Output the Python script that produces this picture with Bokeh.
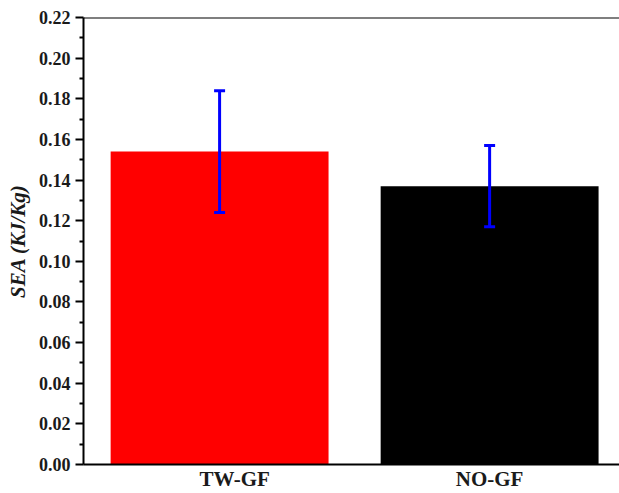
from bokeh.plotting import figure
from bokeh.models import ColumnDataSource, Whisker, Range1d, FixedTicker, Span, NumeralTickFormatter, TeeHead
from bokeh.embed import file_html
from bokeh.resources import INLINE

categories = ["TW-GF", "NO-GF"]
sea_values = [0.154, 0.137]
sea_errors = [0.030, 0.020]
bar_colors = ["#ff0000", "#000000"]
y_ticks = [0.00, 0.02, 0.04, 0.06, 0.08, 0.10, 0.12, 0.14, 0.16, 0.18, 0.20, 0.22]

xs = list(range(len(categories)))
src = ColumnDataSource(dict(
    x=xs, top=sea_values, color=bar_colors,
    upper=[v + e for v, e in zip(sea_values, sea_errors)],
    lower=[v - e for v, e in zip(sea_values, sea_errors)],
))

p = figure(width=619, height=493, output_backend="svg", toolbar_location=None,
           x_range=Range1d(-0.504, 1.481), y_range=Range1d(0, 0.22),
           min_border_left=83, min_border_right=0, min_border_top=17, min_border_bottom=28)
p.outline_line_color = None
p.xgrid.visible = False
p.ygrid.visible = False
p.background_fill_color = "white"

p.vbar(x="x", top="top", width=0.807, fill_color="color", line_color=None, source=src)

w = Whisker(base="x", upper="upper", lower="lower", source=src, level="overlay",
            line_color="#0000ff", line_width=3,
            upper_head=TeeHead(size=11, line_color="#0000ff", line_width=3),
            lower_head=TeeHead(size=11, line_color="#0000ff", line_width=3))
p.add_layout(w)

p.add_layout(Span(location=0.22, dimension="width", line_color="black", line_width=2))

font = "Liberation Serif"
ya = p.yaxis[0]
ya.ticker = FixedTicker(ticks=y_ticks, minor_ticks=[t + 0.01 for t in y_ticks[:-1]])
ya.formatter = NumeralTickFormatter(format="0.00")
ya.major_label_text_font = font
ya.major_label_text_font_style = "bold"
ya.major_label_text_font_size = "18px"
ya.major_label_text_color = "#1a1a1a"
ya.major_tick_out = 8
ya.major_tick_in = 0
ya.minor_tick_out = 4
ya.minor_tick_in = 0
ya.major_tick_line_width = 2
ya.minor_tick_line_width = 2
ya.axis_line_width = 2
ya.major_label_standoff = 5
ya.axis_label = "SEA (KJ/Kg)"
ya.axis_label_text_font = font
ya.axis_label_text_font_style = "bold italic"
ya.axis_label_text_font_size = "21px"
ya.axis_label_text_color = "#1a1a1a"
ya.axis_label_standoff = 6

# category label positions (first label sits slightly right of its bar centre, as in the reference)
label_shift = [0.056, 0.0]
tick_pos = [x + s for x, s in zip(xs, label_shift)]
xa = p.xaxis[0]
xa.ticker = FixedTicker(ticks=tick_pos)
xa.major_label_overrides = {t: c for t, c in zip(tick_pos, categories)}
xa.major_label_text_font = font
xa.major_label_text_font_style = "bold"
xa.major_label_text_font_size = "21px"
xa.major_label_text_color = "#1a1a1a"
xa.major_tick_out = 0
xa.major_tick_in = 0
xa.minor_tick_out = 0
xa.minor_tick_in = 0
xa.axis_line_width = 2
xa.major_label_standoff = 2

open("out.html", "w").write(file_html(p, INLINE))
